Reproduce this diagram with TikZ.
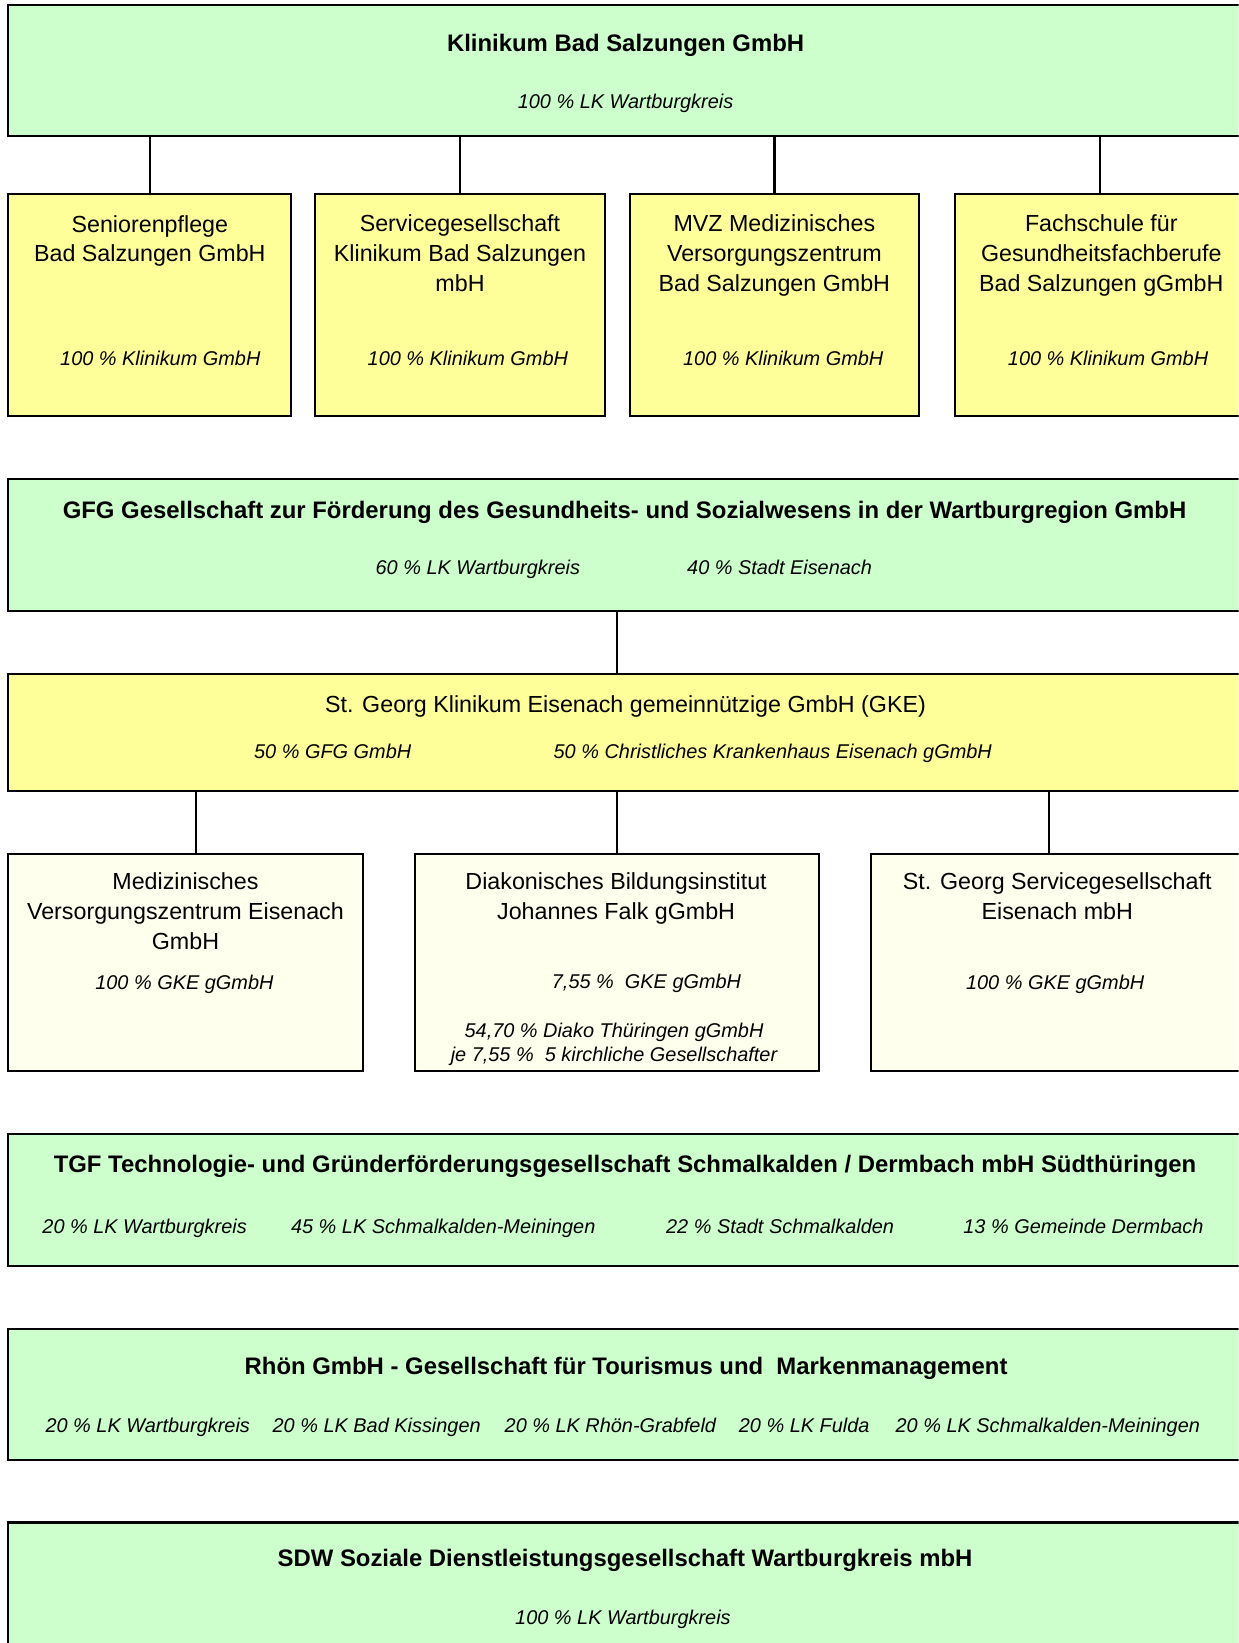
\documentclass[tikz,border=0pt]{standalone}
\usepackage{fontspec}
\setmainfont{Liberation Sans}
\usetikzlibrary{fit}
\definecolor{gruen}{HTML}{CCFFCC}
\definecolor{gelb}{HTML}{FFFF99}
\definecolor{creme}{HTML}{FFFFEE}
\tikzset{
	firma/.style={draw=black, line width=1pt, inner sep=0pt},
	zeile/.style={text height=0.72em, text depth=0pt, inner sep=0pt},
	titel/.style={zeile, font=\fontsize{11.4}{14}\selectfont\bfseries},
	firmenname/.style={font=\fontsize{11.1}{14.2}\selectfont, align=center, inner sep=0pt,
		execute at begin node=\strut, execute at end node=\strut},
	anteil/.style={zeile, font=\fontsize{9.5}{11.5}\selectfont\itshape},
	anteile/.style={font=\fontsize{9.5}{11.5}\selectfont\itshape, align=center, inner sep=0pt,
		execute at begin node=\strut, execute at end node=\strut},
	linie/.style={line width=1.2pt}
}
\begin{document}
\begin{tikzpicture}[x={(0.5pt,0)},y={(0,-0.5pt)}]
		\clip (0,0) rectangle (1182,1568);
		% Klinikum Bad Salzungen
		\node[firma, fill=gruen, fit={(8,5) (1186,130)}] (klinikum) {};
		\node[titel] (klinikumT) at (597,42) {Klinikum Bad Salzungen GmbH};
		\node[anteil] (klinikumA) at (597,96) {100 \% LK Wartburgkreis};
		
		\node[firma, fill=gelb, fit={(8,185) (278,397)}] (senioren) {};
		\node[firmenname] (seniorenT) at (143,232) {Seniorenpflege\\Bad Salzungen GmbH};
		\node[anteil] (seniorenA) at (153,342) {100 \% Klinikum GmbH};
		\node[firma, fill=gelb, fit={(301,185) (577,397)}] (service) {};
		\node[firmenname] (serviceT) at (439,246) {Servicegesellschaft\\Klinikum Bad Salzungen\\mbH};
		\node[anteil] (serviceA) at (446.5,342) {100 \% Klinikum GmbH};
		\node[firma, fill=gelb, fit={(601,185) (877,397)}] (mvz) {};
		\node[firmenname] (mvzT) at (739,246) {MVZ Medizinisches\\Versorgungszentrum\\Bad Salzungen GmbH};
		\node[anteil] (mvzA) at (747.5,342) {100 \% Klinikum GmbH};
		\node[firma, fill=gelb, fit={(911,185) (1189,397)}] (fachschule) {};
		\node[firmenname] (fachschuleT) at (1051,246) {Fachschule für\\Gesundheitsfachberufe\\Bad Salzungen gGmbH};
		\node[anteil] (fachschuleA) at (1057.5,342) {100 \% Klinikum GmbH};
		
		\foreach \kind in {senioren,service,mvz,fachschule}
			\draw[linie] (\kind.north) -- (\kind.north |- klinikum.south);
		
		% GFG und St. Georg Klinikum
		\node[firma, fill=gruen, fit={(8,457) (1186,583)}] (gfg) {};
		\node[titel] (gfgT) at (596,488) {GFG Gesellschaft zur Förderung des Gesundheits- und Sozialwesens in der Wartburgregion GmbH};
		\node[anteil] (gfgA1) at (456,541) {60 \% LK Wartburgkreis};
		\node[anteil] (gfgA2) at (744,541) {40 \% Stadt Eisenach};
		
		\node[firma, fill=gelb, fit={(8,643) (1186,755)}] (gke) {};
		\node[firmenname] (gkeT) at (597,674.3) {St. Georg Klinikum Eisenach gemeinnützige GmbH (GKE)};
		\node[anteil] (gkeA1) at (317.5,717) {50 \% GFG GmbH};
		\node[anteil] (gkeA2) at (737.5,717) {50 \% Christliches Krankenhaus Eisenach gGmbH};
		
		\node[firma, fill=creme, fit={(8,815) (346,1022)}] (mvze) {};
		\node[firmenname] (mvzeT) at (177,873.5) {Medizinisches\\Versorgungszentrum Eisenach\\GmbH};
		\node[anteil] (mvzeA) at (176,937) {100 \% GKE gGmbH};
		\node[firma, fill=creme, fit={(396,815) (782,1022)}] (diako) {};
		\node[firmenname] (diakoT) at (588,859.5) {Diakonisches Bildungsinstitut\\Johannes Falk gGmbH};
		\node[anteil] (diakoA1) at (617,936) {7,55 \%\ \ GKE gGmbH};
		\node[anteile] (diakoA2) at (586,998.2) {54,70 \% Diako Thüringen gGmbH\\je 7,55 \%\ \ 5 kirchliche Gesellschafter};
		\node[firma, fill=creme, fit={(831,815) (1187,1022)}] (stgeorg) {};
		\node[firmenname] (stgeorgT) at (1009,859.5) {St. Georg Servicegesellschaft\\Eisenach mbH};
		\node[anteil] (stgeorgA) at (1007,937) {100 \% GKE gGmbH};
		
		\draw[linie] (gfg.south -| diako.north) -- (gke.north -| diako.north);
		\draw[linie] ([xshift=5]mvze.north) -- ([xshift=5]mvze.north |- gke.south);
		\draw[linie] (diako.north) -- (diako.north |- gke.south);
		\draw[linie] ([xshift=-4]stgeorg.north) -- ([xshift=-4]stgeorg.north |- gke.south);
		
		% TGF
		\node[firma, fill=gruen, fit={(8,1082) (1186,1208)}] (tgf) {};
		\node[titel] (tgfT) at (596.5,1112) {TGF Technologie- und Gründerförderungsgesellschaft Schmalkalden / Dermbach mbH Südthüringen};
		\foreach \px/\txt [count=\i] in {138/{20 \% LK Wartburgkreis}, 423/{45 \% LK Schmalkalden-Meiningen}, 744.5/{22 \% Stadt Schmalkalden}, 1034/{13 \% Gemeinde Dermbach}}
			\node[anteil] (tgfA\i) at (\px,1170) {\txt};
		
		% Rhön
		\node[firma, fill=gruen, fit={(8,1268) (1186,1393)}] (rhoen) {};
		\node[titel] (rhoenT) at (597.5,1305) {Rhön GmbH - Gesellschaft für Tourismus und\ \ Markenmanagement};
		\foreach \px/\txt [count=\i] in {141/{20 \% LK Wartburgkreis}, 359.5/{20 \% LK Bad Kissingen}, 582.5/{20 \% LK Rhön-Grabfeld}, 767.5/{20 \% LK Fulda}, 1000/{20 \% LK Schmalkalden-Meiningen}}
			\node[anteil] (rhoenA\i) at (\px,1360) {\txt};
		
		% SDW
		\node[firma, fill=gruen, fit={(8,1453) (1186,1590)}] (sdw) {};
		\node[titel] (sdwT) at (596.5,1488) {SDW Soziale Dienstleistungsgesellschaft Wartburgkreis mbH};
		\node[anteil] (sdwA) at (594.5,1543) {100 \% LK Wartburgkreis};
		
	\end{tikzpicture}
\end{document}
